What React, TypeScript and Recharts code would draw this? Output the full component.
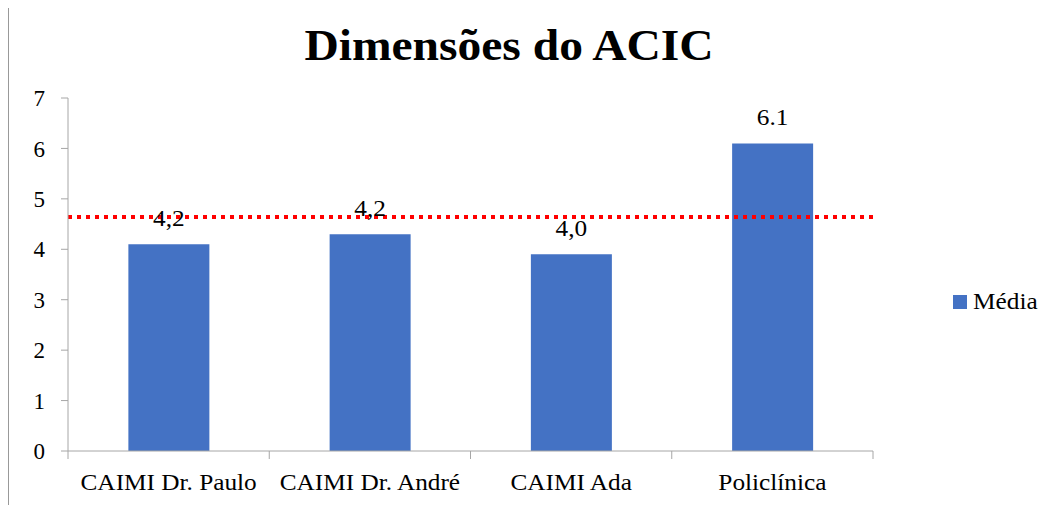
import React from 'react';
import { BarChart, Bar, XAxis, YAxis, ReferenceLine, LabelList } from 'recharts';

const categories = ['CAIMI Dr. Paulo', 'CAIMI Dr. André', 'CAIMI Ada', 'Policlínica'];
const mediaValues = [4.1, 4.3, 3.9, 6.1];
const mediaLabels = ['4,2', '4,2', '4,0', '6.1'];
const yTicks = [0, 1, 2, 3, 4, 5, 6, 7];
const averageLine = 4.64;
const seriesName = 'Média';
const title = 'Dimensões do ACIC';

const data = categories.map((name, i) => ({ name, value: mediaValues[i], label: mediaLabels[i] }));

const FONT = '"Liberation Serif", "Times New Roman", serif';
const AXIS = '#A6A6A6';
const BLUE = '#4472C4';

function XTick(props: any) {
  const { x, y, payload, index, visibleTicksCount } = props;
  const half = payload && payload.offset ? payload.offset : 100.6;
  const last = index === (visibleTicksCount ?? categories.length) - 1;
  return (
    <g>
      <line x1={x - half} y1={y} x2={x - half} y2={y + 8} stroke={AXIS} />
      {last && <line x1={x + half} y1={y} x2={x + half} y2={y + 8} stroke={AXIS} />}
      <text
        transform={`translate(${x},${y + 39}) scale(1.1,1)`}
        textAnchor="middle"
        fontFamily={FONT}
        fontSize={23}
        fill="#000"
      >
        {payload.value}
      </text>
    </g>
  );
}

function BarLabel(props: any) {
  const { x, y, width, index } = props;
  return (
    <text
      transform={`translate(${x + width / 2},${y - 18}) scale(1.1,1)`}
      textAnchor="middle"
      fontFamily={FONT}
      fontSize={23}
      fill="#000"
    >
      {mediaLabels[index]}
    </text>
  );
}

export default function App() {
  return (
    <div
      style={{
        position: 'relative',
        width: 1051,
        height: 498,
        marginTop: -1,
        borderTop: '1px solid #999',
        borderLeft: '1px solid #999',
        boxSizing: 'border-box',
        fontFamily: FONT,
        overflow: 'hidden',
      }}
    >
      <div
        style={{
          position: 'absolute',
          left: 500,
          top: 12,
          transform: 'translateX(-50%) scaleX(1.08)',
          fontSize: 44,
          fontWeight: 'bold',
          whiteSpace: 'nowrap',
          color: '#000',
        }}
      >
        {title}
      </div>
      <BarChart
        width={1050}
        height={497}
        data={data}
        margin={{ top: 90, right: 186, bottom: 0, left: 0 }}
        barCategoryGap="30%"
      >
        <YAxis
          domain={[0, 7]}
          ticks={yTicks}
          width={59}
          tickSize={7}
          tickMargin={16}
          axisLine={{ stroke: AXIS }}
          tickLine={{ stroke: AXIS }}
          tick={{ fontFamily: FONT, fontSize: 23, fill: '#000' }}
        />
        <XAxis
          dataKey="name"
          height={54}
          tickSize={0}
          tickMargin={0}
          interval={0}
          axisLine={{ stroke: AXIS }}
          tickLine={false}
          tick={<XTick />}
        />
        <Bar dataKey="value" name={seriesName} fill={BLUE} isAnimationActive={false}>
          <LabelList dataKey="label" content={<BarLabel />} />
        </Bar>
        <ReferenceLine y={averageLine} stroke="#FF0000" strokeWidth={4} strokeDasharray="4 5" />
      </BarChart>
      <div
        style={{
          position: 'absolute',
          left: 944,
          top: 281,
          display: 'flex',
          alignItems: 'center',
          fontSize: 23,
          color: '#000',
        }}
      >
        <span style={{ display: 'inline-block', width: 14, height: 14, background: BLUE, marginRight: 6 }} />
        <span style={{ display: 'inline-block', transform: 'scaleX(1.1)', transformOrigin: 'left center' }}>
          {seriesName}
        </span>
      </div>
    </div>
  );
}
